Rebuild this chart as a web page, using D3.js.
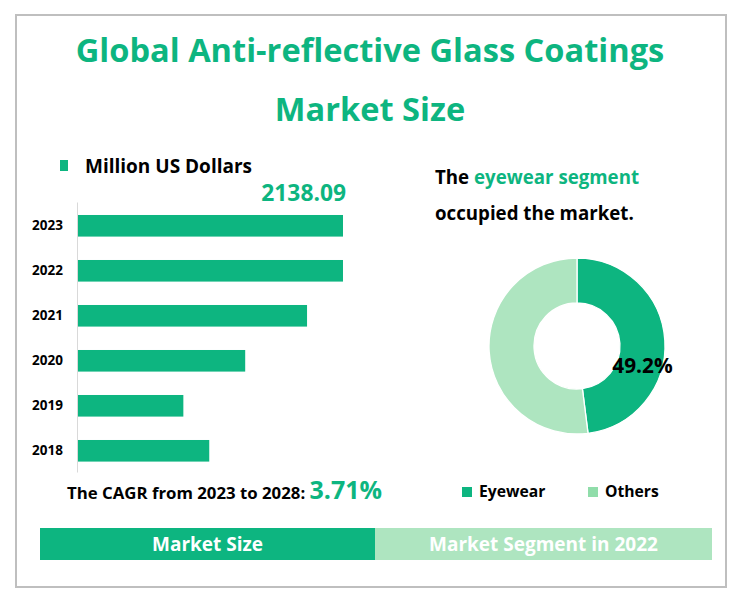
<!DOCTYPE html>
<html>
<head>
<meta charset="utf-8">
<script src="https://d3js.org/d3.v7.min.js"></script>
<style>
    html, body { margin: 0; padding: 0; background: #fff; }
    svg { display: block; }
    text { font-family: "Open Sans", "Noto Sans", sans-serif; font-weight: 700; }
</style>
</head>
<body>
<div class="graph"></div>
<script>
// Values
const years = ["2023", "2022", "2021", "2020", "2019", "2018"];
const marketSize = [2138.09, 2138, 1848, 1349, 850, 1059];
const segments = ["Eyewear", "Others"];
// the slice is drawn a bit smaller than its printed label
const segmentShare = [48, 52];
const segmentLabel = "49.2%";
const titleLines = ["Global Anti-reflective Glass Coatings", "Market Size"];

const green = "#0DB580";
const lightGreen = "#AEE5C0";
const legendLight = "#90DDAA";

const dimensions = { width: 737, height: 599 };

const wrapper = d3.select(".graph")
    .append("svg")
        .attr("width", dimensions.width)
        .attr("height", dimensions.height);

// Outer frame
wrapper.append("rect")
    .attr("x", 16).attr("y", 15)
    .attr("width", 710).attr("height", 572)
    .attr("fill", "#fff")
    .attr("stroke", "#BFBFBF")
    .attr("stroke-width", 2);

// Title
wrapper.selectAll(".title")
    .data(titleLines)
    .join("text")
        .attr("class", "title")
        .attr("x", 370)
        .attr("y", (d, i) => 62 + i * 59)
        .attr("text-anchor", "middle")
        .attr("font-size", 32.6)
        .attr("fill", green)
        .text(d => d);

// Bar chart legend
wrapper.append("rect")
    .attr("x", 60).attr("y", 160)
    .attr("width", 8).attr("height", 11)
    .attr("fill", green);
wrapper.append("text")
    .attr("x", 85).attr("y", 173)
    .attr("font-size", 19)
    .text("Million US Dollars");

// Bar chart
const yScale = d3.scaleBand()
    .domain(years)
    .range([202, 472])
    .paddingInner(0.52)
    .paddingOuter(0.26)
    .align(0.555);

const xScale = d3.scaleLinear()
    .domain([0, 2138.09])
    .range([78, 343]);

wrapper.append("g")
    .selectAll("rect")
    .data(years)
    .join("rect")
        .attr("x", xScale(0))
        .attr("y", d => yScale(d))
        .attr("width", (d, i) => xScale(marketSize[i]) - xScale(0))
        .attr("height", yScale.bandwidth())
        .attr("fill", green);

const yAxis = wrapper.append("g")
    .attr("transform", `translate(${xScale(0) - 1},0)`)
    .call(d3.axisLeft(yScale).tickSize(0).tickPadding(14));
yAxis.select(".domain").attr("stroke", "#D9D9D9");
yAxis.selectAll("text")
    .attr("font-size", 13.5)
    .attr("fill", "#000");

wrapper.append("text")
    .attr("x", xScale(marketSize[0]) + 3)
    .attr("y", 201)
    .attr("text-anchor", "end")
    .attr("font-size", 22.8)
    .attr("fill", green)
    .text(marketSize[0]);

// CAGR line
const cagr = wrapper.append("text")
    .attr("x", 67).attr("y", 499)
    .attr("font-size", 16.8);
cagr.append("tspan").text("The CAGR from 2023 to 2028: ");
cagr.append("tspan")
    .attr("font-size", 25)
    .attr("fill", green)
    .text("3.71%");

// Right side heading
const heading = wrapper.append("text")
    .attr("x", 435).attr("y", 184)
    .attr("font-size", 18.7);
heading.append("tspan").text("The ");
heading.append("tspan").attr("fill", green).text("eyewear segment");
wrapper.append("text")
    .attr("x", 435).attr("y", 220)
    .attr("font-size", 18.7)
    .text("occupied the market.");

// Donut
const pie = d3.pie().sort(null);
const arc = d3.arc().innerRadius(43).outerRadius(88);
const donut = wrapper.append("g")
    .attr("transform", "translate(577,346)");
donut.selectAll("path")
    .data(pie(segmentShare))
    .join("path")
        .attr("d", arc)
        .attr("fill", (d, i) => i === 0 ? green : lightGreen)
        .attr("stroke", "#fff")
        .attr("stroke-width", 1.3);
wrapper.append("text")
    .attr("x", 642.5).attr("y", 373)
    .attr("text-anchor", "middle")
    .attr("font-size", 20.8)
    .attr("fill", "#000")
    .text(segmentLabel);

// Donut legend
const legendX = d3.scaleOrdinal().domain(segments).range([462, 588]);
wrapper.selectAll(".legend-box")
    .data(segments)
    .join("rect")
        .attr("class", "legend-box")
        .attr("x", d => legendX(d)).attr("y", 487)
        .attr("width", 10).attr("height", 10)
        .attr("fill", (d, i) => i === 0 ? green : legendLight);
wrapper.selectAll(".legend-label")
    .data(segments)
    .join("text")
        .attr("class", "legend-label")
        .attr("x", d => legendX(d) + 17).attr("y", 497)
        .attr("font-size", 15.7)
        .text(d => d);

// Bottom bands
const bands = [
    { label: "Market Size", x: 40, w: 335, fill: green },
    { label: "Market Segment in 2022", x: 375, w: 337, fill: lightGreen }
];
wrapper.selectAll(".band")
    .data(bands)
    .join("rect")
        .attr("class", "band")
        .attr("x", d => d.x).attr("y", 528)
        .attr("width", d => d.w).attr("height", 32)
        .attr("fill", d => d.fill);
wrapper.selectAll(".band-label")
    .data(bands)
    .join("text")
        .attr("class", "band-label")
        .attr("x", d => d.x + d.w / 2).attr("y", 551)
        .attr("text-anchor", "middle")
        .attr("font-size", 19)
        .attr("fill", "#fff")
        .text(d => d.label);
</script>
</body>
</html>
